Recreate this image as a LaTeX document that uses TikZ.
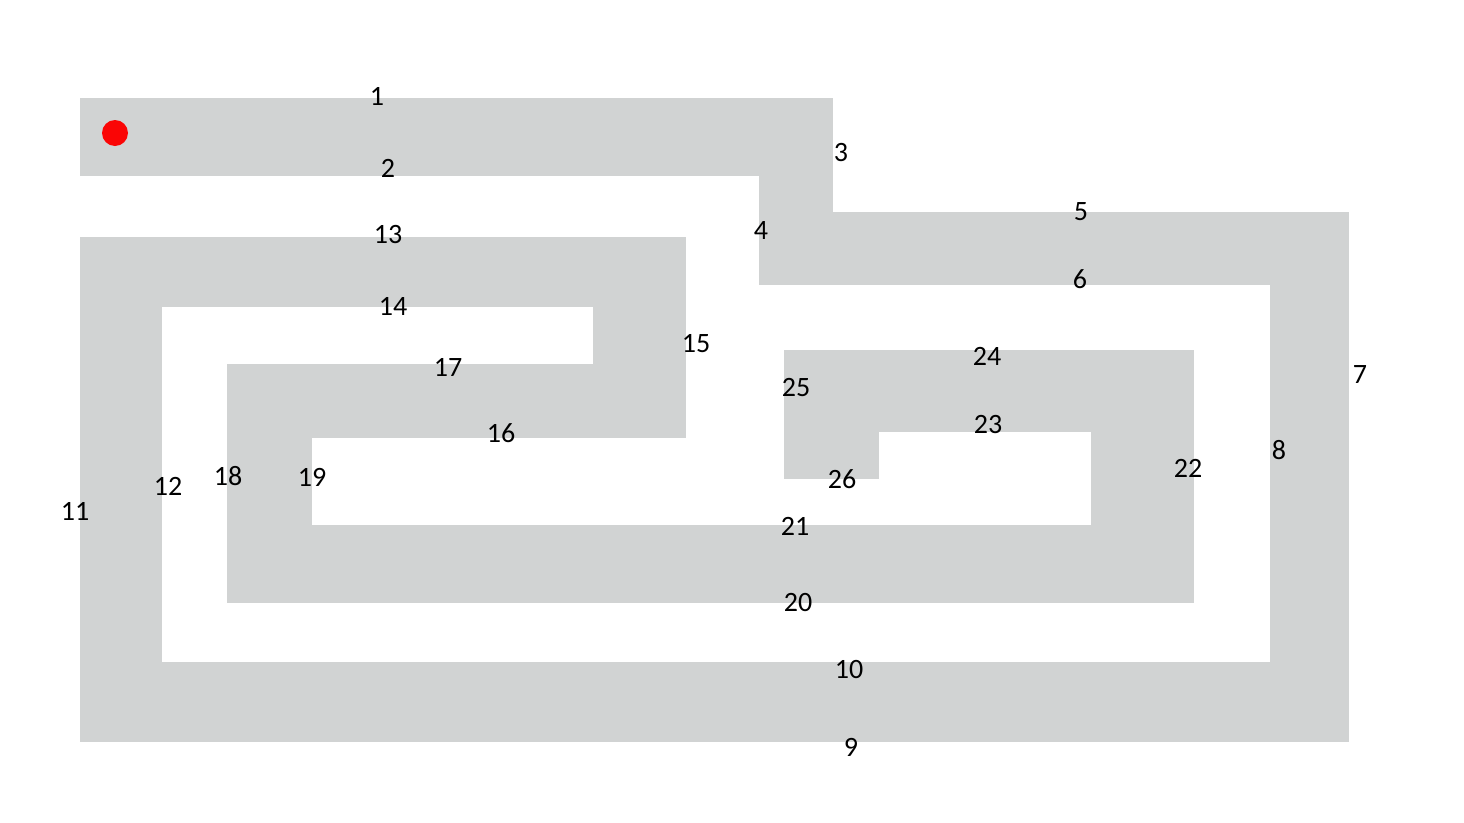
\documentclass[tikz,border=0pt]{standalone}
\usepackage{fontspec}
\setmainfont{Carlito}
\definecolor{mazegray}{RGB}{209,211,211}
\definecolor{dotred}{RGB}{250,5,5}
\begin{document}
\begin{tikzpicture}[x=1pt,y=-1pt,
  wall/.style={fill=mazegray,draw=none},
  lbl/.style={font=\fontsize{28}{32}\selectfont,inner sep=0pt,text=black}]
\useasboundingbox (0,0) rectangle (1464,822);
% gray corridors
\fill[wall] (80,98) rectangle (833,176);
\fill[wall] (759,175) rectangle (833,285);
\fill[wall] (759,212) rectangle (1349,285);
\fill[wall] (1270,212) rectangle (1349,742);
\fill[wall] (80,662) rectangle (1349,742);
\fill[wall] (80,237) rectangle (162,742);
\fill[wall] (80,237) rectangle (686,307);
\fill[wall] (593,237) rectangle (686,438);
\fill[wall] (227,364) rectangle (686,438);
\fill[wall] (227,364) rectangle (312,603);
\fill[wall] (227,525) rectangle (1194,603);
\fill[wall] (1091,350) rectangle (1194,603);
\fill[wall] (784,350) rectangle (1194,432);
\fill[wall] (784,350) rectangle (879,479);
% start dot
\fill[dotred] (115,133) circle (13);
% labels
\node[lbl] (l1) at (377,96) {1};
\node[lbl] (l2) at (388,168) {2};
\node[lbl] (l3) at (841,153) {3};
\node[lbl] (l4) at (761,231) {4};
\node[lbl] (l5) at (1081,212) {5};
\node[lbl] (l6) at (1080,279) {6};
\node[lbl] (l7) at (1360,375) {7};
\node[lbl] (l8) at (1279,450) {8};
\node[lbl] (l9) at (851,747) {9};
\node[lbl] (l10) at (849,670) {10};
\node[lbl] (l11) at (75,511) {11};
\node[lbl] (l12) at (168,486) {12};
\node[lbl] (l13) at (388,235) {13};
\node[lbl] (l14) at (393,306) {14};
\node[lbl] (l15) at (696,344) {15};
\node[lbl] (l16) at (501,433) {16};
\node[lbl] (l17) at (448,367) {17};
\node[lbl] (l18) at (228,476) {18};
\node[lbl] (l19) at (312,477) {19};
\node[lbl] (l20) at (798,603) {20};
\node[lbl] (l21) at (795,526) {21};
\node[lbl] (l22) at (1188,468) {22};
\node[lbl] (l23) at (988,425) {23};
\node[lbl] (l24) at (987,356) {24};
\node[lbl] (l25) at (796,388) {25};
\node[lbl] (l26) at (842,479) {26};
\end{tikzpicture}
\end{document}
